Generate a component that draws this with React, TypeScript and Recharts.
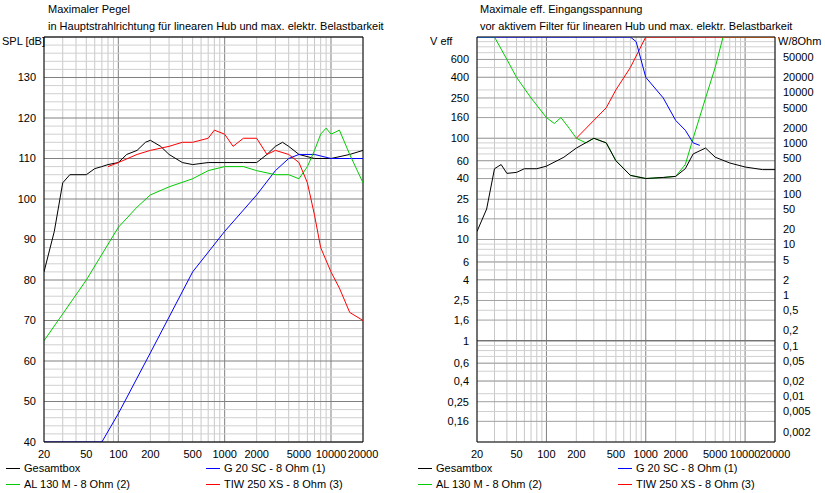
import React from "react";
import { LineChart, Line, XAxis, YAxis, ReferenceLine } from "recharts";

const xTicks = [20, 50, 100, 200, 500, 1000, 2000, 5000, 10000, 20000];
const splTicks = [40, 50, 60, 70, 80, 90, 100, 110, 120, 130];
const vTicks = [0.16, 0.25, 0.4, 0.6, 1, 1.6, 2.5, 4, 6, 10, 16, 25, 40, 60, 100, 160, 250, 400, 600];
const wTicks = [0.002, 0.005, 0.01, 0.02, 0.05, 0.1, 0.2, 0.5, 1, 2, 5, 10, 20, 50, 100, 200, 500, 1000, 2000, 5000, 10000, 20000, 50000];

// Left panel: SPL [dB]
const splGesamt = [[20,82],[25,92],[30,104],[35,106],[40,106],[50,106],[60,107.5],[70,108],[80,108.5],[100,109],[120,111],[150,112],[180,114],[200,114.5],[250,113],[300,111],[400,109],[500,108.5],[700,109],[1000,109],[1500,109],[2000,109],[2500,111],[3000,113],[3500,114],[4000,113],[5000,111],[7000,110],[10000,110],[15000,111],[20000,112]];
const splG20 = [[20,40],[70,40],[100,47],[200,62],[500,82],[1000,92],[2000,101],[3000,107],[4000,110],[5000,111],[7000,111],[10000,110],[15000,110],[20000,110]];
const splAL130 = [[20,65],[50,80],[100,93],[150,98],[200,101],[300,103],[500,105],[700,107],[1000,108],[1500,108],[2000,107],[3000,106],[4000,106],[5000,105],[6000,108],[7000,112],[8000,116],[9000,117.5],[10000,116],[12000,117],[15000,111],[20000,104]];
const splTIW = [[80,108],[100,109],[150,111],[200,112],[300,113],[400,114],[500,114],[700,115],[800,117],[1000,116],[1200,113],[1500,115],[2000,115],[2500,111],[3000,112],[4000,111],[5000,109],[6000,104],[7000,96],[8000,88],[10000,82],[12000,78],[15000,72],[20000,70]];

// Right panel: V eff
const vGesamt = [[20,12],[25,20],[30,50],[35,55],[40,45],[50,46],[60,50],[80,50],[100,53],[150,65],[200,80],[300,100],[400,90],[500,60],[700,43],[1000,40],[1500,41],[2000,42],[2500,50],[3000,70],[4000,80],[5000,65],[7000,57],[10000,52],[15000,49],[20000,49]];
const vG20 = [[20,1000],[700,1000],[800,900],[1000,400],[1500,250],[2000,150],[2500,120],[3000,90],[3500,85]];
const vAL130 = [[20,1000],[30,1000],[40,600],[50,400],[70,250],[100,160],[120,140],[140,160],[170,125],[200,100],[250,90],[300,100],[400,90],[500,60],[700,43],[1000,40],[1500,41],[2000,42],[2500,55],[3000,100],[4000,250],[5000,500],[6000,1000],[20000,1000]];
const vTIW = [[200,100],[300,150],[400,200],[500,300],[700,500],[1000,1000],[20000,1000]];

const toPts = (a: number[][]) => a.map(([f, v]) => ({ f, v }));

const minorX: number[] = [];
for (let d = 10; d <= 10000; d *= 10) for (let k = 1; k <= 9; k++) { const v = d * k; if (v >= 20 && v <= 20000) minorX.push(v); }
const minorSpl: number[] = [];
for (let v = 40; v <= 140; v += 2) minorSpl.push(v);
const minorV: number[] = [];
for (let d = 0.1; d <= 1000; d *= 10) for (let k = 1; k <= 9; k++) { const v = d * k; if (v >= 0.1 && v <= 1000) minorV.push(v); }

const font = "'Liberation Sans', Arial, sans-serif";
const tickStyle = { fontSize: 11, fill: "#000", fontFamily: font };
const fmtX = (v: number) => String(v);
const wToV = (w: number) => Math.sqrt(8 * w);

function Legend({ x }: { x: number }) {
  const items = [
    { c: "#000", t: "Gesamtbox", l: 0, y: 470 },
    { c: "#00f", t: "G 20 SC - 8 Ohm (1)", l: 200, y: 470 },
    { c: "#0c0", t: "AL 130 M - 8 Ohm (2)", l: 0, y: 486 },
    { c: "#f00", t: "TIW 250 XS - 8 Ohm (3)", l: 200, y: 486 },
  ];
  return (
    <>
      {items.map((it) => (
        <div key={it.t} style={{ position: "absolute", left: x + it.l, top: it.y - 8, fontSize: 11, fontFamily: font, whiteSpace: "nowrap", display: "flex", alignItems: "center" }}>
          <span style={{ display: "inline-block", width: 14, height: 1, background: it.c, marginRight: 4 }} />
          {it.t}
        </div>
      ))}
    </>
  );
}

const lbl = (x: number, y: number, t: string) => (
  <div style={{ position: "absolute", left: x, top: y, fontSize: 11, fontFamily: font, whiteSpace: "nowrap" }}>{t}</div>
);

export default function App() {
  return (
    <div style={{ position: "fixed", left: 0, top: 0, width: 825, height: 493, background: "#fff" }}>
      <div style={{ position: "absolute", left: 0, top: 0 }}>
        <LineChart width={412} height={493} margin={{ top: 37, bottom: 21, left: 4, right: 49 }}>
          <XAxis dataKey="f" type="number" scale="log" domain={[20, 20000]} ticks={xTicks} interval={0} tickFormatter={fmtX} tick={tickStyle} tickLine={false} axisLine={{ stroke: "#000" }} height={30} allowDataOverflow />
          <YAxis type="number" domain={[40, 140]} ticks={splTicks} interval={0} tick={tickStyle} width={40} tickLine={false} axisLine={{ stroke: "#000" }} allowDataOverflow />
          {minorX.map((v) => <ReferenceLine key={"x" + v} x={v} stroke={[100, 1000, 10000].includes(v) ? "#808080" : "#c8c8c8"} />)}
          {minorSpl.map((v) => <ReferenceLine key={"y" + v} y={v} stroke={v % 10 === 0 ? "#808080" : "#d0d0d0"} />)}
          <ReferenceLine x={20000} stroke="#000" />
          <ReferenceLine y={140} stroke="#000" />
          <Line data={toPts(splGesamt)} dataKey="v" stroke="#000" dot={false} isAnimationActive={false} strokeWidth={1} />
          <Line data={toPts(splG20)} dataKey="v" stroke="#00f" dot={false} isAnimationActive={false} strokeWidth={1} />
          <Line data={toPts(splAL130)} dataKey="v" stroke="#0c0" dot={false} isAnimationActive={false} strokeWidth={1} />
          <Line data={toPts(splTIW)} dataKey="v" stroke="#f00" dot={false} isAnimationActive={false} strokeWidth={1} />
        </LineChart>
      </div>
      <div style={{ position: "absolute", left: 412, top: 0 }}>
        <LineChart width={413} height={493} margin={{ top: 37, bottom: 21, left: 4, right: 0 }}>
          <XAxis dataKey="f" type="number" scale="log" domain={[20, 20000]} ticks={xTicks} interval={0} tickFormatter={fmtX} tick={tickStyle} tickLine={false} axisLine={{ stroke: "#000" }} height={30} allowDataOverflow />
          <YAxis yAxisId="l" type="number" scale="log" domain={[0.1, 1000]} ticks={vTicks} interval={0} tickFormatter={(v: number) => String(v).replace(".", ",")} tick={tickStyle} width={61} tickLine={false} axisLine={{ stroke: "#000" }} allowDataOverflow />
          <YAxis yAxisId="r" orientation="right" type="number" scale="log" domain={[0.1, 1000]} ticks={wTicks.map(wToV)} interval={0} tickFormatter={(v: number) => { const w = (v * v) / 8; const m = wTicks.find((t) => Math.abs(t - w) / t < 0.01); return String(m ?? "").replace(".", ","); }} tick={{ ...tickStyle, textAnchor: "start" }} width={50} tickLine={false} axisLine={{ stroke: "#000" }} allowDataOverflow />
          {minorX.map((v) => <ReferenceLine yAxisId="l" key={"x" + v} x={v} stroke={[100, 1000, 10000].includes(v) ? "#808080" : "#c8c8c8"} />)}
          {minorV.map((v) => <ReferenceLine yAxisId="l" key={"y" + v} y={v} stroke="#d0d0d0" />)}
          {vTicks.map((v) => <ReferenceLine yAxisId="l" key={"t" + v} y={v} stroke="#a0a0a0" />)}
          <ReferenceLine yAxisId="l" y={1} stroke="#606060" />
          <ReferenceLine yAxisId="l" y={1000} stroke="#000" />
          <Line yAxisId="l" data={toPts(vAL130)} dataKey="v" stroke="#0c0" dot={false} isAnimationActive={false} strokeWidth={1} />
          <Line yAxisId="l" data={toPts(vTIW)} dataKey="v" stroke="#f00" dot={false} isAnimationActive={false} strokeWidth={1} />
          <Line yAxisId="l" data={toPts(vG20)} dataKey="v" stroke="#00f" dot={false} isAnimationActive={false} strokeWidth={1} />
          <Line yAxisId="l" data={toPts(vGesamt)} dataKey="v" stroke="#000" dot={false} isAnimationActive={false} strokeWidth={1} />
        </LineChart>
      </div>
      {lbl(48, 3, "Maximaler Pegel")}
      {lbl(48, 20, "in Hauptstrahlrichtung für linearen Hub und max. elektr. Belastbarkeit")}
      {lbl(2, 35, "SPL [dB]")}
      {lbl(480, 3, "Maximale eff. Eingangsspannung")}
      {lbl(480, 20, "vor aktivem Filter für linearen Hub und max. elektr. Belastbarkeit")}
      {lbl(430, 35, "V eff")}
      {lbl(778, 35, "W/8Ohm")}
      <Legend x={6} />
      <Legend x={418} />
    </div>
  );
}
